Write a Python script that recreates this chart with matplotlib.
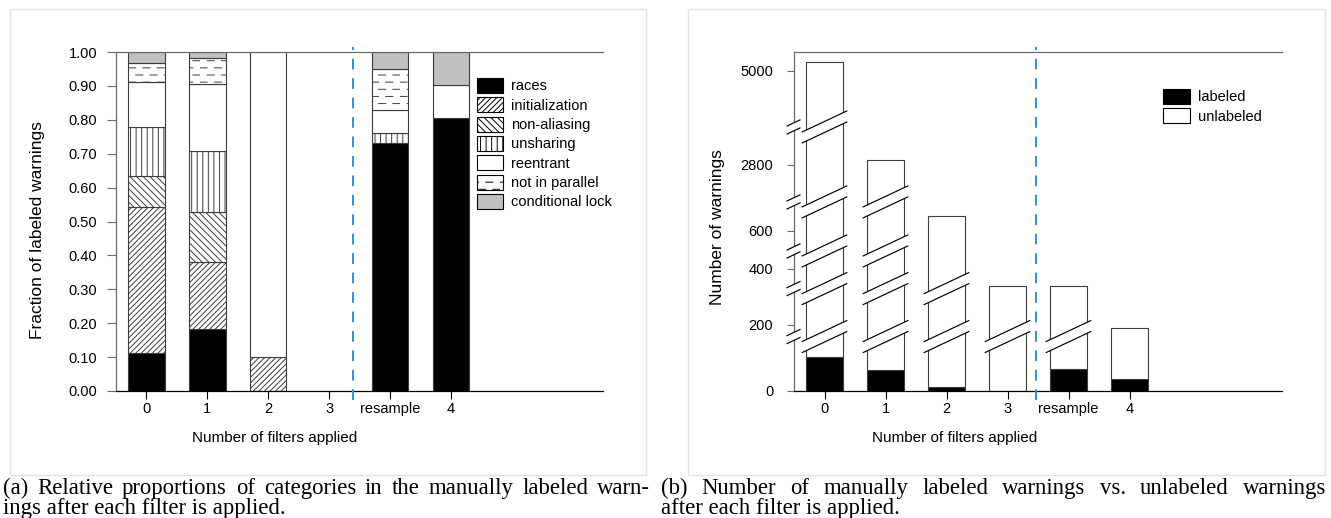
import numpy as np
import matplotlib
matplotlib.use('Agg')
import matplotlib.pyplot as plt
import matplotlib.hatch as mhatch
from matplotlib.path import Path
from matplotlib.patches import Polygon, Rectangle, Patch
from matplotlib.lines import Line2D
from matplotlib.transforms import IdentityTransform

# ---------------- data ----------------
tick_labels = ['0', '1', '2', '3', 'resample', '4']
categories = ['races', 'initialization', 'non-aliasing', 'unsharing',
              'reentrant', 'not in parallel', 'conditional lock']
races            = [0.111, 0.182, 0.000, 0.0, 0.731, 0.806]
initialization   = [0.433, 0.199, 0.100, 0.0, 0.000, 0.000]
non_aliasing     = [0.090, 0.146, 0.000, 0.0, 0.000, 0.000]
unsharing        = [0.144, 0.182, 0.000, 0.0, 0.031, 0.000]
reentrant        = [0.133, 0.198, 0.900, 0.0, 0.067, 0.097]
not_in_parallel  = [0.056, 0.074, 0.000, 0.0, 0.120, 0.000]
conditional_lock = [0.033, 0.019, 0.000, 0.0, 0.051, 0.097]
frac_ticks = [0.0, 0.1, 0.2, 0.3, 0.4, 0.5, 0.6, 0.7, 0.8, 0.9, 1.0]

labeled   = [104, 64, 13, 0, 67, 35]
unlabeled = [5106, 2856, 1087, 340, 273, 155]
count_ticks = [0, 200, 400, 600, 2800, 5000]
axis_breaks = [165, 330, 495, 1570, 3690]
breaks_per_bar = [5, 4, 2, 1, 1, 0]

# ---------------- custom dashed hatch for "not in parallel" ----------------
class DashHatch(mhatch.HatchPatternBase):
    def __init__(self, hatch, density):
        n = hatch.count('-')
        self.rows = 14 * n
        self.cols = 7
        self.num_vertices = self.rows * self.cols * 2

    def set_vertices_and_codes(self, vertices, codes):
        k = 0
        dl = 0.5 / self.cols
        for r in range(self.rows):
            yy = (r + 0.5) / self.rows
            off = 0.5 / self.cols if r % 2 else 0.0
            for c in range(self.cols):
                x0 = c / self.cols + off
                vertices[k] = (x0, yy)
                vertices[k + 1] = (x0 + dl, yy)
                codes[k] = Path.MOVETO
                codes[k + 1] = Path.LINETO
                k += 2

mhatch._hatch_types = [DashHatch if t is mhatch.HorizontalHatch else t
                       for t in mhatch._hatch_types]

plt.rcParams['font.family'] = ['Liberation Sans', 'DejaVu Sans']
plt.rcParams['hatch.linewidth'] = 0.7

W, H = 1331, 518
fig = plt.figure(figsize=(W / 100, H / 100), dpi=100)

def rect(x0, y0, x1, y1):
    return [x0 / W, 1 - y1 / H, (x1 - x0) / W, (y1 - y0) / H]

# panel frames
for (x0, y0, x1, y1) in [(10, 9, 646, 475), (688, 9, 1325, 475)]:
    fig.add_artist(Rectangle((x0 / W, 1 - y1 / H), (x1 - x0) / W, (y1 - y0) / H,
                             transform=fig.transFigure, fill=False,
                             edgecolor='#e2e2e2', linewidth=1.0))

EDGE = '#3c3c3c'
SPINE = '#6a6a6a'
xpos = np.arange(len(tick_labels))
bw = 0.6

# ================= panel (a) =================
axA = fig.add_axes(rect(116, 52, 603, 391))
series = [races, initialization, non_aliasing, unsharing, reentrant,
          not_in_parallel, conditional_lock]
faces = ['black', 'white', 'white', 'white', 'white', 'white', '#c0c0c0']
hatches = [None, '//////', '\\\\\\\\\\', '|||', None, '-', None]
bottom = np.zeros(len(xpos))
for vals, fc, ht in zip(series, faces, hatches):
    vals = np.array(vals, dtype=float)
    m = vals > 0
    axA.bar(xpos[m], vals[m], bw, bottom=bottom[m], color=fc, hatch=ht,
            edgecolor=EDGE, linewidth=0.8, zorder=2)
    bottom += vals

axA.set_xlim(-0.5, 7.5)
axA.set_ylim(0, 1)
axA.set_yticks(frac_ticks)
axA.set_yticklabels(['%.2f' % v for v in frac_ticks])
axA.set_xticks(xpos)
axA.set_xticklabels(tick_labels)
axA.tick_params(axis='y', direction='out', length=6.5, width=0.8, color=SPINE,
                pad=7, labelsize=10.5)
axA.tick_params(axis='x', direction='out', length=6, width=0.8, color='black',
                pad=2, labelsize=10.5)
axA.spines['right'].set_visible(False)
for s in ['top', 'left']:
    axA.spines[s].set_color(SPINE)
    axA.spines[s].set_linewidth(0.9)
axA.spines['bottom'].set_color('black')
axA.spines['bottom'].set_linewidth(0.9)
axA.axvline(3.4, ymin=-0.027, ymax=1.015, clip_on=False, color='#2f8fe0',
            linewidth=1.4, linestyle=(0, (5.5, 4.5)), zorder=5)

handlesA = [Patch(facecolor=fc, hatch=ht, edgecolor='black', linewidth=0.8)
            for fc, ht in zip(faces, hatches)]
axA.legend(handlesA, categories, loc='upper left', bbox_to_anchor=(0.741, 0.923),
           frameon=False, fontsize=10.5, handlelength=1.8, handleheight=1.2,
           handletextpad=0.55, labelspacing=0.27, borderpad=0, borderaxespad=0)

fig.text(37.5 / W, 1 - 230 / H, 'Fraction of labeled warnings', rotation=90,
         ha='center', va='center', fontsize=12.5)
fig.text(275 / W, 1 - 438 / H, 'Number of filters applied', ha='center',
         va='center', fontsize=11)

# ================= panel (b) =================
axB = fig.add_axes(rect(794, 52, 1282, 391))
kv = [-10000, 0, 200, 400, 600, 2800, 5000, 5445, 100000]
kp = [-3300, 0, 66, 122, 160, 226, 320, 339, 339 + 94579 * 94 / 2200]

def fwd(v):
    return np.interp(v, kv, kp)

def inv(p):
    return np.interp(p, kp, kv)

axB.set_yscale('function', functions=(fwd, inv))
lab = np.array(labeled, dtype=float)
unl = np.array(unlabeled, dtype=float)
axB.bar(xpos, lab, bw, color='black', edgecolor=EDGE, linewidth=0.8, zorder=2)
axB.bar(xpos, unl, bw, bottom=lab, color='white', edgecolor=EDGE,
        linewidth=0.8, zorder=2)
axB.set_xlim(-0.5, 7.5)
axB.set_ylim(0, 5445)
axB.set_yticks(count_ticks)
axB.set_yticklabels([str(v) for v in count_ticks])
axB.yaxis.set_minor_locator(matplotlib.ticker.NullLocator())
axB.set_xticks(xpos)
axB.set_xticklabels(tick_labels)
axB.tick_params(axis='y', direction='out', length=5, width=0.8, color=SPINE,
                pad=10, labelsize=10.5)
axB.tick_params(axis='x', direction='out', length=6, width=0.8, color='black',
                pad=2, labelsize=10.5)
axB.spines['right'].set_visible(False)
for s in ['top', 'left']:
    axB.spines[s].set_color(SPINE)
    axB.spines[s].set_linewidth(0.9)
axB.spines['bottom'].set_color('black')
axB.spines['bottom'].set_linewidth(0.9)
axB.axvline(3.47, ymin=-0.027, ymax=1.015, clip_on=False, color='#2f8fe0',
            linewidth=1.4, linestyle=(0, (5.5, 4.5)), zorder=5)

handlesB = [Patch(facecolor='black', edgecolor='black', linewidth=0.8),
            Patch(facecolor='white', edgecolor='black', linewidth=0.8)]
axB.legend(handlesB, ['labeled', 'unlabeled'], loc='upper left',
           bbox_to_anchor=(0.756, 0.891), frameon=False, fontsize=10.5,
           handlelength=1.85, handleheight=1.2, handletextpad=0.55,
           labelspacing=0.27, borderpad=0, borderaxespad=0)

fig.text(717.5 / W, 1 - 227 / H, 'Number of warnings', rotation=90,
         ha='center', va='center', fontsize=12.5)
fig.text(955 / W, 1 - 438 / H, 'Number of filters applied', ha='center',
         va='center', fontsize=11)

# ---- broken-axis marks (drawn in display pixels around data positions) ----
SLOPE = 0.47

def draw_break(ax, xl, xr, yc, gap, lw):
    dy = SLOPE * (xr - xl) / 2
    lo = [(xl, yc - gap / 2 - dy), (xr, yc - gap / 2 + dy)]
    up = [(xl, yc + gap / 2 - dy), (xr, yc + gap / 2 + dy)]
    ax.add_artist(Polygon([lo[0], lo[1], up[1], up[0]], closed=True,
                          facecolor='white', edgecolor='none',
                          transform=IdentityTransform(), zorder=6,
                          clip_on=False))
    for seg in (lo, up):
        ax.add_artist(Line2D([seg[0][0], seg[1][0]], [seg[0][1], seg[1][1]],
                             color='black', linewidth=lw,
                             transform=IdentityTransform(), zorder=7,
                             clip_on=False))

for i, nb in enumerate(breaks_per_bar):
    for j in range(nb):
        (xl, yc) = axB.transData.transform((xpos[i] - bw / 2, axis_breaks[j]))
        (xr, _) = axB.transData.transform((xpos[i] + bw / 2, axis_breaks[j]))
        draw_break(axB, xl - 4, xr + 4, yc, 11, 0.85)

for v in axis_breaks:
    xs = axB.transAxes.transform((0, 0))[0]
    yc = axB.transData.transform((0, v))[1]
    draw_break(axB, xs - 7, xs + 6, yc, 8, 0.85)

# ---------------- captions ----------------
r = fig.canvas.get_renderer()

def justified(text, x0, x1, ybase, size):
    words = text.split()
    ts = [fig.text(0, 1 - ybase / H, w, fontsize=size, family='Liberation Serif',
                   va='baseline', ha='left') for w in words]
    widths = [t.get_window_extent(r).width for t in ts]
    gap = ((x1 - x0) - sum(widths)) / (len(words) - 1)
    xx = x0
    for t, wd in zip(ts, widths):
        t.set_x(xx / W)
        xx += wd + gap

CAP = 16.4
justified('(a) Relative proportions of categories in the manually labeled warn-',
          3, 650, 494, CAP)
fig.text(3 / W, 1 - 514 / H, 'ings after each filter is applied.', fontsize=CAP,
         family='Liberation Serif', va='baseline', ha='left')
justified('(b) Number of manually labeled warnings vs. unlabeled warnings',
          661, 1326, 494, CAP)
fig.text(661 / W, 1 - 514 / H, 'after each filter is applied.', fontsize=CAP,
         family='Liberation Serif', va='baseline', ha='left')

fig.savefig('out.png', dpi=100)
